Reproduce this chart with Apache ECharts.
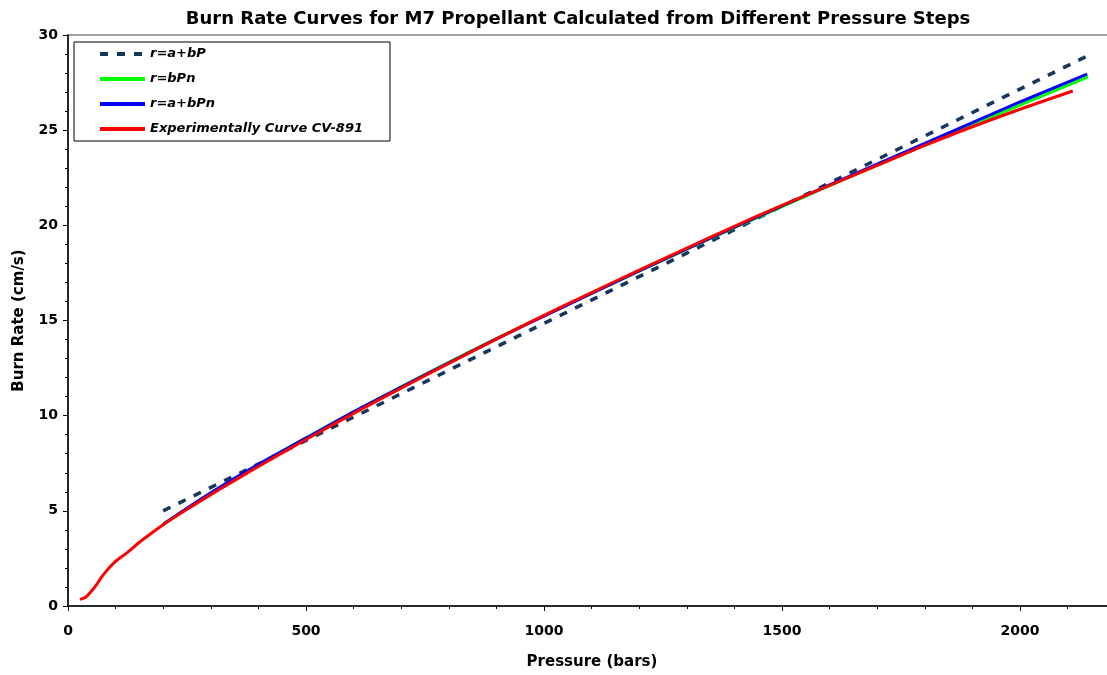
<!DOCTYPE html>
<html>
<head>
<meta charset="utf-8">
<script src="https://cdn.jsdelivr.net/npm/echarts@6/dist/echarts.min.js"></script>
<style>
  html, body { margin: 0; padding: 0; background: #fff; }
  #chart { width: 1107px; height: 675px; }
</style>
</head>
<body>
<div id="chart"></div>
<script>
// Linear fit r = a + bP
const linearP = [200, 2140];
const linearR = [5.0, 28.88];

// Power law fit r = bP^n
const powerP = [200, 300, 400, 500, 600, 700, 800, 900, 1000, 1200, 1400, 1600, 1800, 2000, 2143];
const powerR = [4.3, 5.92, 7.42, 8.84, 10.2, 11.52, 12.8, 14.05, 15.25, 17.6, 19.88, 22.08, 24.22, 26.32, 27.8];

// Offset power law fit r = a + bP^n
const offsetPowerP = [200, 300, 400, 500, 600, 700, 800, 900, 1000, 1200, 1400, 1600, 1800, 2000, 2141];
const offsetPowerR = [4.3, 5.95, 7.45, 8.82, 10.2, 11.5, 12.78, 14.03, 15.23, 17.6, 19.9, 22.12, 24.3, 26.48, 27.95];

// Closed-vessel experiment CV-891
const expP = [25, 36, 50, 60, 70, 80, 90, 100, 125, 150, 175, 200, 250, 300, 350, 400, 500, 600, 700, 800, 900, 1000,
              1100, 1200, 1300, 1400, 1500, 1600, 1700, 1800, 1900, 2000, 2111];
const expR = [0.35, 0.45, 0.8, 1.12, 1.5, 1.82, 2.1, 2.35, 2.82, 3.35, 3.82, 4.27, 5.08, 5.85, 6.6, 7.33, 8.75, 10.12,
              11.45, 12.75, 14.02, 15.27, 16.47, 17.65, 18.8, 19.95, 21.05, 22.1, 23.15, 24.2, 25.18, 26.1, 27.06];

const seriesNames = ['r=a+bP', 'r=bPn', 'r=a+bPn', 'Experimentally Curve CV-891'];

const pairs = (xs, ys) => xs.map((x, i) => [x, ys[i]]);

const FONT = '"DejaVu Sans", "Liberation Sans", Arial, sans-serif';

const chart = echarts.init(document.getElementById('chart'), null, { renderer: 'canvas' });

const axisCommon = {
  axisLine: { show: true, lineStyle: { color: '#000', width: 1.5 } },
  axisTick: { show: true, inside: false, length: 5, lineStyle: { color: '#000', width: 1 } },
  minorTick: { show: true, splitNumber: 5, length: 3, lineStyle: { color: '#000', width: 1 } },
  splitLine: { show: false },
  minorSplitLine: { show: false }
};

chart.setOption({
  animation: false,
  backgroundColor: '#fff',
  title: {
    text: 'Burn Rate Curves for M7 Propellant Calculated from Different Pressure Steps',
    left: 573,
    textAlign: 'center',
    top: 5,
    textStyle: { fontFamily: FONT, fontWeight: 'bold', fontSize: 18, color: '#000' }
  },
  grid: {
    left: 68,
    top: 35,
    width: 1190,
    height: 571,
    outerBoundsMode: 'none',
    containLabel: false,
    show: true,
    borderColor: '#a0a0a0',
    borderWidth: 2,
    backgroundColor: 'transparent'
  },
  legend: {
    orient: 'vertical',
    left: 74,
    top: 42,
    padding: [5, 27, 5, 24],
    itemWidth: 45,
    itemHeight: 14,
    itemGap: 11,
    borderColor: '#000',
    borderWidth: 1,
    backgroundColor: '#fff',
    data: seriesNames,
    itemStyle: { opacity: 0 },
    lineStyle: { width: 4 },
    textStyle: { fontFamily: FONT, fontWeight: 'bold', fontStyle: 'italic', fontSize: 13, color: '#000', lineHeight: 14 }
  },
  xAxis: Object.assign({}, axisCommon, {
    type: 'value',
    min: 0,
    max: 2500,
    interval: 500,
    name: 'Pressure (bars)',
    nameLocation: 'middle',
    nameGap: 49,
    // the axis runs past the right edge, so pull the title back over the visible part
    nameTextStyle: { fontFamily: FONT, fontWeight: 'bold', fontSize: 15, color: '#000', padding: [0, 142, 0, 0] },
    axisLabel: {
      fontFamily: FONT, fontWeight: 'bold', fontSize: 14, color: '#000', margin: 18, showMaxLabel: false,
      formatter: v => String(v)
    }
  }),
  yAxis: Object.assign({}, axisCommon, {
    type: 'value',
    min: 0,
    max: 30,
    interval: 5,
    name: 'Burn Rate (cm/s)',
    nameLocation: 'middle',
    nameGap: 41,
    nameTextStyle: { fontFamily: FONT, fontWeight: 'bold', fontSize: 15, color: '#000' },
    axisLabel: { fontFamily: FONT, fontWeight: 'bold', fontSize: 14, color: '#000', margin: 10, formatter: v => String(v) }
  }),
  series: [
    {
      name: seriesNames[0],
      type: 'line',
      data: pairs(linearP, linearR),
      showSymbol: false,
      symbol: 'none',
      lineStyle: { color: '#17365D', width: 3.5, type: [8, 9], cap: 'butt' },
      itemStyle: { color: '#17365D' },
      z: 2
    },
    {
      name: seriesNames[1],
      type: 'line',
      data: pairs(powerP, powerR),
      smooth: 0.3,
      symbol: 'none',
      lineStyle: { color: '#00FF00', width: 3 },
      itemStyle: { color: '#00FF00' },
      z: 3
    },
    {
      name: seriesNames[2],
      type: 'line',
      data: pairs(offsetPowerP, offsetPowerR),
      smooth: 0.3,
      symbol: 'none',
      lineStyle: { color: '#0000FF', width: 3 },
      itemStyle: { color: '#0000FF' },
      z: 4
    },
    {
      name: seriesNames[3],
      type: 'line',
      data: pairs(expP, expR),
      smooth: 0.3,
      symbol: 'none',
      lineStyle: { color: '#FF0000', width: 3 },
      itemStyle: { color: '#FF0000' },
      z: 5
    }
  ]
});
</script>
</body>
</html>
